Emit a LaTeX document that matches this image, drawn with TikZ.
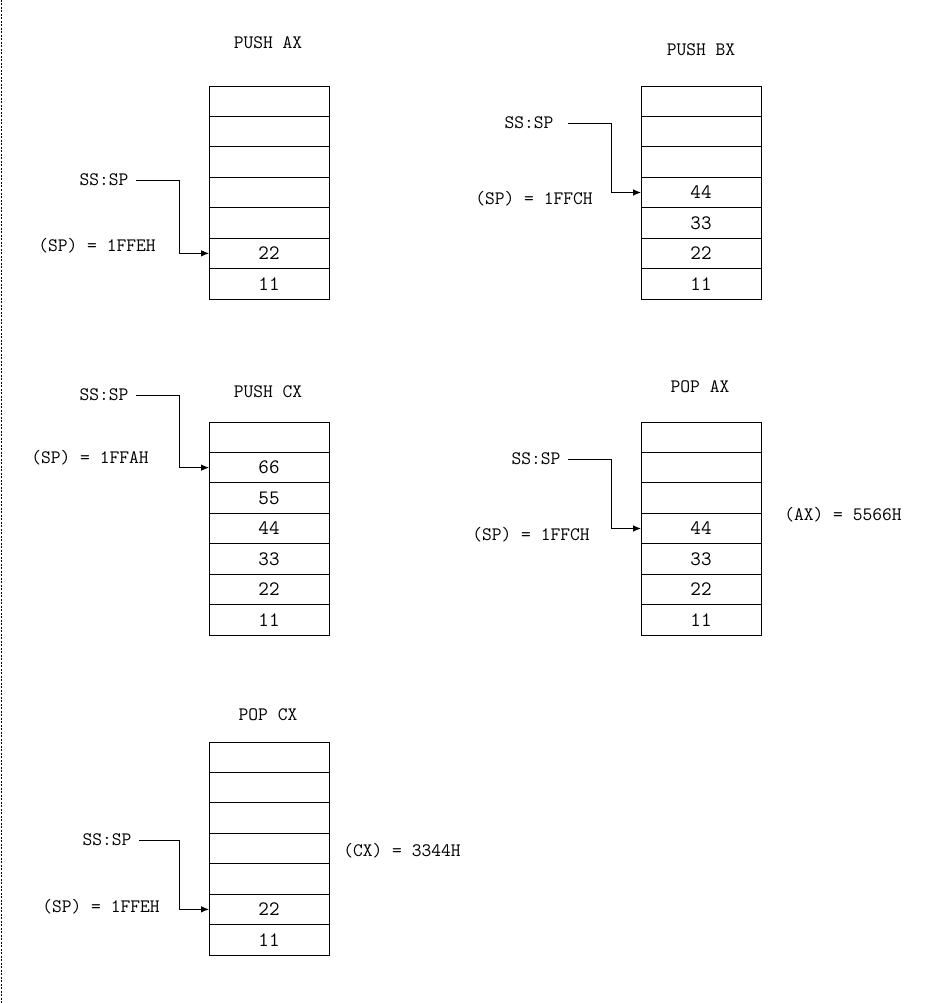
\documentclass[tikz,border=0pt]{standalone}
\usepackage{tikz}
\usetikzlibrary{positioning,arrows.meta}

\begin{document}
\begin{tikzpicture} [x=1pt,y=-1pt,line width=0.8pt,every node/.style={font=\ttfamily\fontsize{19}{21}\selectfont},]

\tikzstyle{cell}=[draw,outer sep=0pt,inner sep=0pt,minimum width=120pt,minimum height=30.43pt,font=\ttfamily\fontsize{20.5}{22}\selectfont]
\tikzstyle{ptr}=[-{Latex[length=8pt,width=6.5pt]}]
\tikzstyle{title}=[font=\ttfamily\fontsize{19}{21}\selectfont]
\tikzstyle{sslab}=[inner xsep=7pt]

\useasboundingbox (0,0) rectangle (947,1003);
\draw [dash pattern=on 2pt off 1.5pt] (1,0) -- (1,1003);

% PUSH AX
\begin{scope}[]
\node (tAX) [title] at (268,43) {PUSH AX};
\foreach \v [count=\i from 0] in {,,,,,22,11}
  \node (a\i) [cell] at (269,101.2+30.43*\i) {\v};
\node (spA) [sslab] at (104,180) {SS:SP};
\node (valA) at (97,246) {(SP) = 1FFEH};
\draw [ptr] (spA.east) -| ([xshift=-30pt]a5.west) -- (a5.west);
\end{scope}

% PUSH BX
\begin{scope}[]
\node (tBX) [title] at (701,50) {PUSH BX};
\foreach \v [count=\i from 0] in {,,,44,33,22,11}
  \node (b\i) [cell] at (701,101.2+30.43*\i) {\v};
\node (spB) [sslab,inner xsep=14pt] at (529,123) {SS:SP};
\node (valB) at (534,199) {(SP) = 1FFCH};
\draw [ptr] (spB.east) -| ([xshift=-30pt]b3.west) -- (b3.west);
\end{scope}

% PUSH CX
\begin{scope}[]
\node (tCX) [title] at (268,392) {PUSH CX};
\foreach \v [count=\i from 0] in {,66,55,44,33,22,11}
  \node (c\i) [cell] at (269,437.2+30.43*\i) {\v};
\node (spC) [sslab] at (104,395) {SS:SP};
\node (valC) at (90,458) {(SP) = 1FFAH};
\draw [ptr] (spC.east) -| ([xshift=-30pt]c1.west) -- (c1.west);
\end{scope}

% POP AX
\begin{scope}[]
\node (tPA) [title] at (700,387) {POP AX};
\foreach \v [count=\i from 0] in {,,,44,33,22,11}
  \node (d\i) [cell] at (701,437.2+30.43*\i) {\v};
\node (spD) [sslab] at (536,459) {SS:SP};
\node (valD) at (531,535) {(SP) = 1FFCH};
\node (regD) at (843,515) {(AX) = 5566H};
\draw [ptr] (spD.east) -| ([xshift=-30pt]d3.west) -- (d3.west);
\end{scope}

% POP CX
\begin{scope}[]
\node (tPC) [title] at (268,715) {POP CX};
\foreach \v [count=\i from 0] in {,,,,,22,11}
  \node (e\i) [cell] at (269,757.2+30.43*\i) {\v};
\node (spE) [sslab] at (107,840) {SS:SP};
\node (valE) at (101,907) {(SP) = 1FFEH};
\node (regE) at (402,851) {(CX) = 3344H};
\draw [ptr] (spE.east) -| ([xshift=-30pt]e5.west) -- (e5.west);
\end{scope}

%\draw[step=50pt,gray,very thin] (0,0) grid (947,1003);

\end{tikzpicture}
\end{document}
